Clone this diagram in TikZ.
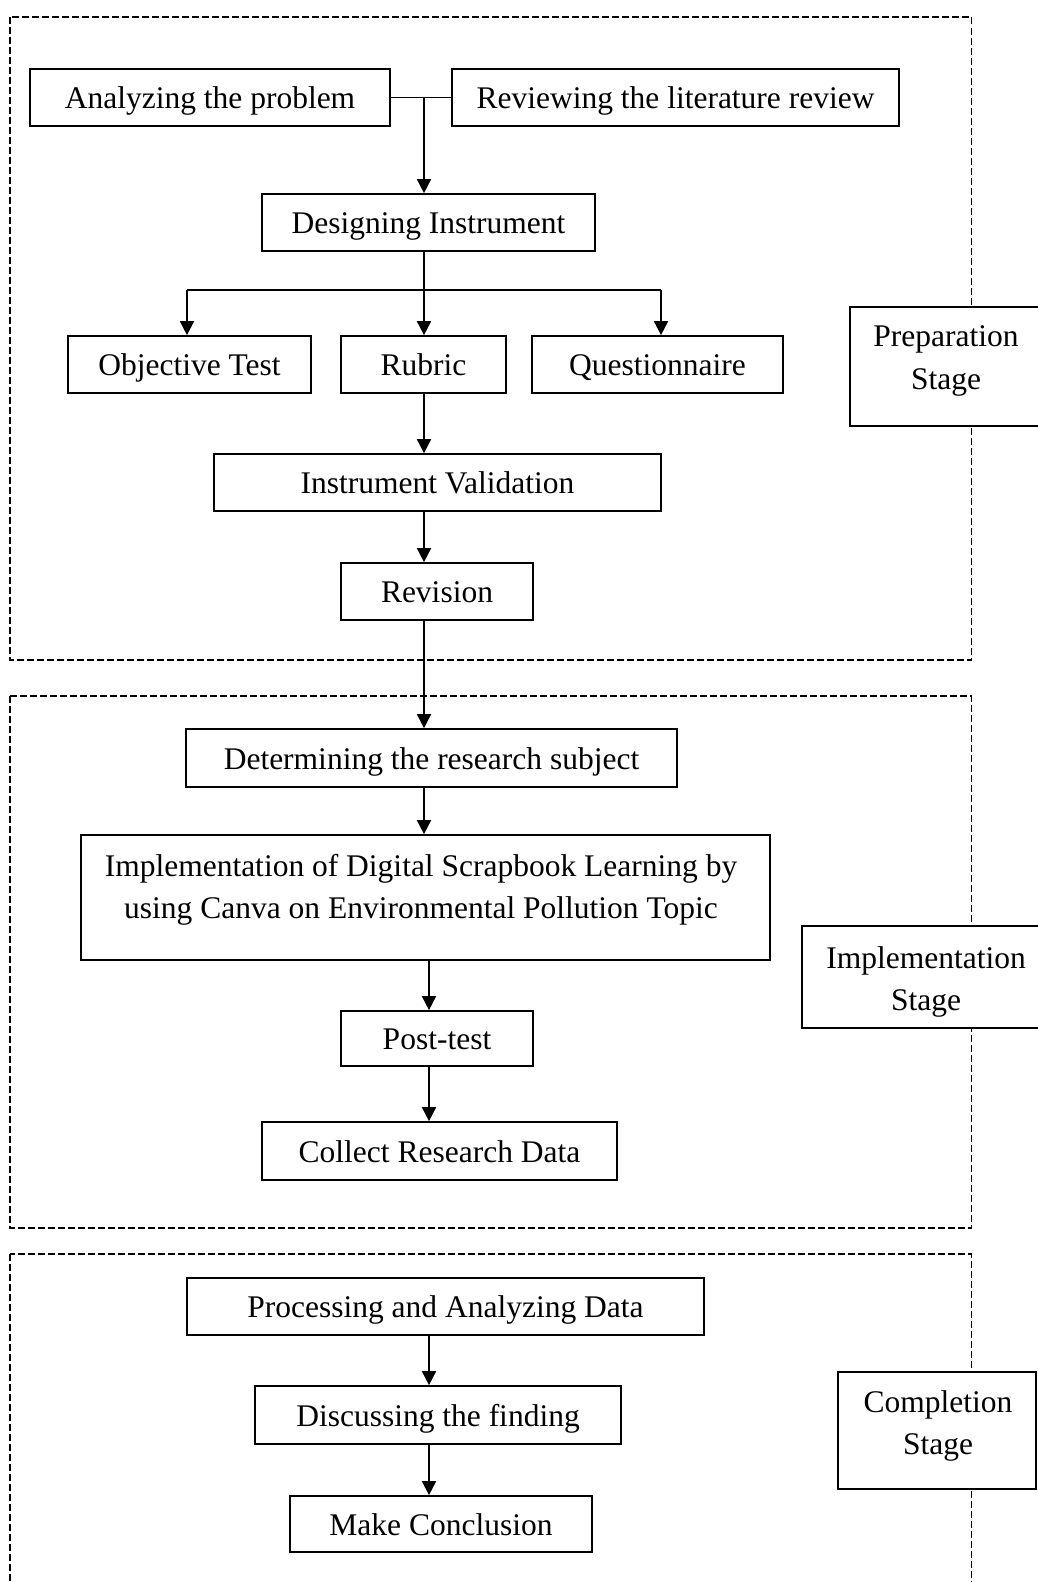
\documentclass[tikz,border=0pt]{standalone}
\usepackage{fontspec}
\setmainfont{Liberation Serif}
\usetikzlibrary{arrows.meta,calc}
\begin{document}
\begin{tikzpicture}[x=1pt,y=-1pt,
  box/.style={draw, line width=1.7pt, fill=white, inner sep=0pt, font=\fontsize{31.5}{42.5}\selectfont, align=center, text height=26pt, text depth=4pt},
  frame/.style={draw, line width=1.7pt, fill=white, inner sep=0pt},
  txt/.style={inner sep=0pt, font=\fontsize{31.5}{42.5}\selectfont, align=center},
  arr/.style={line width=1.7pt, -{Triangle[length=14pt,width=14pt]}},
  ln/.style={line width=1.7pt},
  stagebox/.style={dash pattern=on 7pt off 3pt, line width=1.8pt}]
\useasboundingbox (0,0) rectangle (1038,1582);
% stage frames
\draw[stagebox] (10,17) rectangle (971.5,660);
\draw[stagebox] (10,696) rectangle (971.5,1228);
\draw[stagebox] (10,1254) rectangle (971.5,1600);
% stage labels
\node[frame, minimum width=190pt, minimum height=119pt] (prep) at (945,366.5) {};
\node[txt] (prept) at (946,361) {Preparation\\Stage};
\node[frame, minimum width=246pt, minimum height=102pt] (impst) at (925,977) {};
\node[txt] (impstt) at (926,982) {Implementation\\Stage};
\node[frame, minimum width=198pt, minimum height=117pt] (comp) at (937,1430.5) {};
\node[txt] (compt) at (938,1426) {Completion\\Stage};
% preparation
\node[box, minimum width=360pt, minimum height=57pt] (ana) at (210,97.5) {Analyzing the problem};
\node[box, minimum width=447pt, minimum height=57pt] (rev) at (675.5,97.5) {Reviewing the literature review};
\node[box, minimum width=333pt, minimum height=57pt] (des) at (428.5,222.5) {Designing Instrument};
\node[box, minimum width=243pt, minimum height=57pt] (obj) at (189.5,364.5) {Objective Test};
\node[box, minimum width=165pt, minimum height=57pt] (rub) at (423.5,364.5) {Rubric};
\node[box, minimum width=251pt, minimum height=57pt] (que) at (657.5,364.5) {Questionnaire};
\node[box, minimum width=447pt, minimum height=57pt] (iv) at (437.5,482.5) {Instrument Validation};
\node[box, minimum width=192pt, minimum height=57pt] (revi) at (437,591.5) {Revision};
% implementation
\node[box, minimum width=491pt, minimum height=58pt] (det) at (431.5,758) {Determining the research subject};
\node[frame, minimum width=689pt, minimum height=125pt] (impl) at (425.5,897.5) {};
\node[txt] (implt) at (421,890) {Implementation of Digital Scrapbook Learning by\\using Canva on Environmental Pollution Topic};
\node[box, minimum width=192pt, minimum height=55pt] (post) at (437,1038.5) {Post-test};
\node[box, minimum width=355pt, minimum height=58pt] (coll) at (439.5,1151) {Collect Research Data};
% completion
\node[box, minimum width=517pt, minimum height=57pt] (proc) at (445.5,1306.5) {Processing and Analyzing Data};
\node[box, minimum width=366pt, minimum height=58pt] (disc) at (438,1415) {Discussing the finding};
\node[box, minimum width=302pt, minimum height=56pt] (make) at (441,1524) {Make Conclusion};
% connectors
\coordinate (j) at (424,97.5);
\coordinate (axA) at (424,0);
\coordinate (axB) at (429,0);
\coordinate (bl) at (187,290);
\coordinate (br) at (661,290);
\draw[ln] (ana.east) -- (rev.west);
\draw[arr] (j) -- (j |- des.north);
\draw[ln] (bl) -- (br);
\draw[arr] (axA |- des.south) -- (axA |- rub.north);
\draw[arr] (bl) -- (bl |- obj.north);
\draw[arr] (br) -- (br |- que.north);
\draw[arr] (axA |- rub.south) -- (axA |- iv.north);
\draw[arr] (axA |- iv.south) -- (axA |- revi.north);
\draw[arr] (axA |- revi.south) -- (axA |- det.north);
\draw[arr] (axA |- det.south) -- (axA |- impl.north);
\draw[arr] (axB |- impl.south) -- (axB |- post.north);
\draw[arr] (axB |- post.south) -- (axB |- coll.north);
\draw[arr] (axB |- proc.south) -- (axB |- disc.north);
\draw[arr] (axB |- disc.south) -- (axB |- make.north);
\end{tikzpicture}
\end{document}
